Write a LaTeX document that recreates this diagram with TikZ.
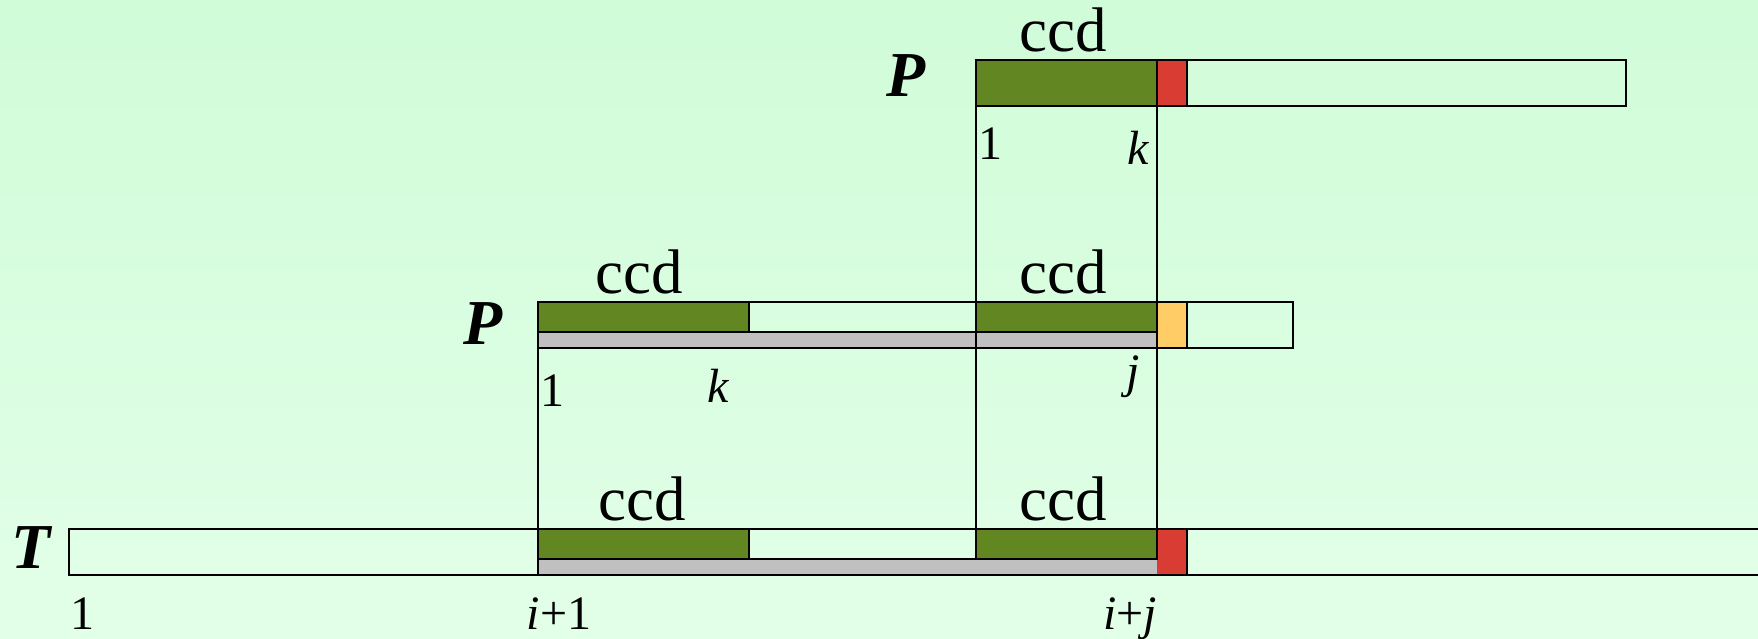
\documentclass[tikz,border=0pt]{standalone}
\usepackage{fontspec}
\setmainfont{Liberation Serif}
\definecolor{bgtop}{RGB}{208,252,216}
\definecolor{bgbot}{RGB}{226,255,232}
\definecolor{ccdgreen}{RGB}{98,134,34}
\definecolor{mismatch}{RGB}{216,60,50}
\definecolor{probe}{RGB}{255,204,102}
\definecolor{greycell}{RGB}{192,192,192}
\tikzset{
  outline/.style={draw=black, line width=1.8pt},
  cellline/.style={draw=black, line width=1.3pt},
  guide/.style={draw=black, line width=1.3pt},
  ccdlabel/.style={anchor=base, inner sep=0pt, font=\fontsize{63}{70}\selectfont},
  strname/.style={anchor=base, inner sep=0pt, font=\fontsize{64}{70}\selectfont\bfseries\itshape},
  poslabel/.style={anchor=base, inner sep=0pt, font=\fontsize{48}{54}\selectfont},
}
\begin{document}
\begin{tikzpicture}[x=1pt,y=1pt]
\useasboundingbox (0,0) rectangle (1758,639);
\shade[top color=bgtop, bottom color=bgbot] (0,0) rectangle (1758,639);
\begin{scope}
\clip (0,0) rectangle (1758,639);
% ---------- top P bar ----------
\fill[ccdgreen] (976,533) rectangle (1157,579);
\fill[mismatch] (1157,533) rectangle (1187,579);
\draw[cellline] (976,533) rectangle (1157,579);
\draw[cellline] (1187,533) -- (1187,579);
\draw[outline] (976,533) rectangle (1626,579);
% ---------- middle P bar ----------
\fill[ccdgreen] (538,307) rectangle (749,337);
\fill[ccdgreen] (976,307) rectangle (1157,337);
\fill[greycell] (538,291) rectangle (1157,307);
\fill[probe] (1157,291) rectangle (1187,337);
\draw[cellline] (538,307) rectangle (749,337);
\draw[cellline] (976,307) rectangle (1157,337);
\draw[cellline] (538,307) -- (1157,307);
\draw[cellline] (1187,291) -- (1187,337);
\draw[outline] (538,291) rectangle (1293,337);
% ---------- T bar ----------
\fill[ccdgreen] (538,80) rectangle (749,110);
\fill[ccdgreen] (976,80) rectangle (1157,110);
\fill[greycell] (538,64) rectangle (1157,80);
\fill[mismatch] (1157,64) rectangle (1187,110);
\draw[cellline] (538,80) rectangle (749,110);
\draw[cellline] (976,80) rectangle (1157,110);
\draw[cellline] (538,80) -- (1157,80);
\draw[cellline] (538,64) -- (538,110);
\draw[cellline] (1187,64) -- (1187,110);
\draw[outline] (69,64) rectangle (1775,110);
% ---------- guide lines ----------
\coordinate (p1top) at (976,533);
\coordinate (p1bot) at (976,110);
\coordinate (kjtop) at (1157,533);
\coordinate (kjbot) at (1157,110);
\coordinate (p2top) at (538,291);
\coordinate (p2bot) at (538,110);
\draw[guide] (p1top) -- (p1bot);
\draw[guide] (kjtop) -- (kjbot);
\draw[guide] (p2top) -- (p2bot);
\end{scope}
% ---------- labels ----------
\node[strname] (Ptop) at (906,542) {P};
\node[strname] (Pmid) at (483,294) {P};
\node[strname] (Tlab) at (31,70) {T};
\node[ccdlabel] (ccd1) at (1063,587) {ccd};
\node[ccdlabel] (ccd2) at (639,345) {ccd};
\node[ccdlabel] (ccd3) at (1063,345) {ccd};
\node[ccdlabel] (ccd4) at (642,118) {ccd};
\node[ccdlabel] (ccd5) at (1063,118) {ccd};
\node[poslabel] (one1) at (990,479) {1};
\node[poslabel] (k1) at (1138,474) {\itshape k};
\node[poslabel] (one2) at (552,232) {1};
\node[poslabel] (k2) at (718,236) {\itshape k};
\node[poslabel] (j2) at (1133,251) {\itshape j};
\node[poslabel] (one3) at (82,9) {1};
\node[poslabel] (i1) at (559,9) {\itshape i\upshape +1};
\node[poslabel] (ij) at (1130,9) {\itshape i\upshape +\itshape j};
\end{tikzpicture}
\end{document}
